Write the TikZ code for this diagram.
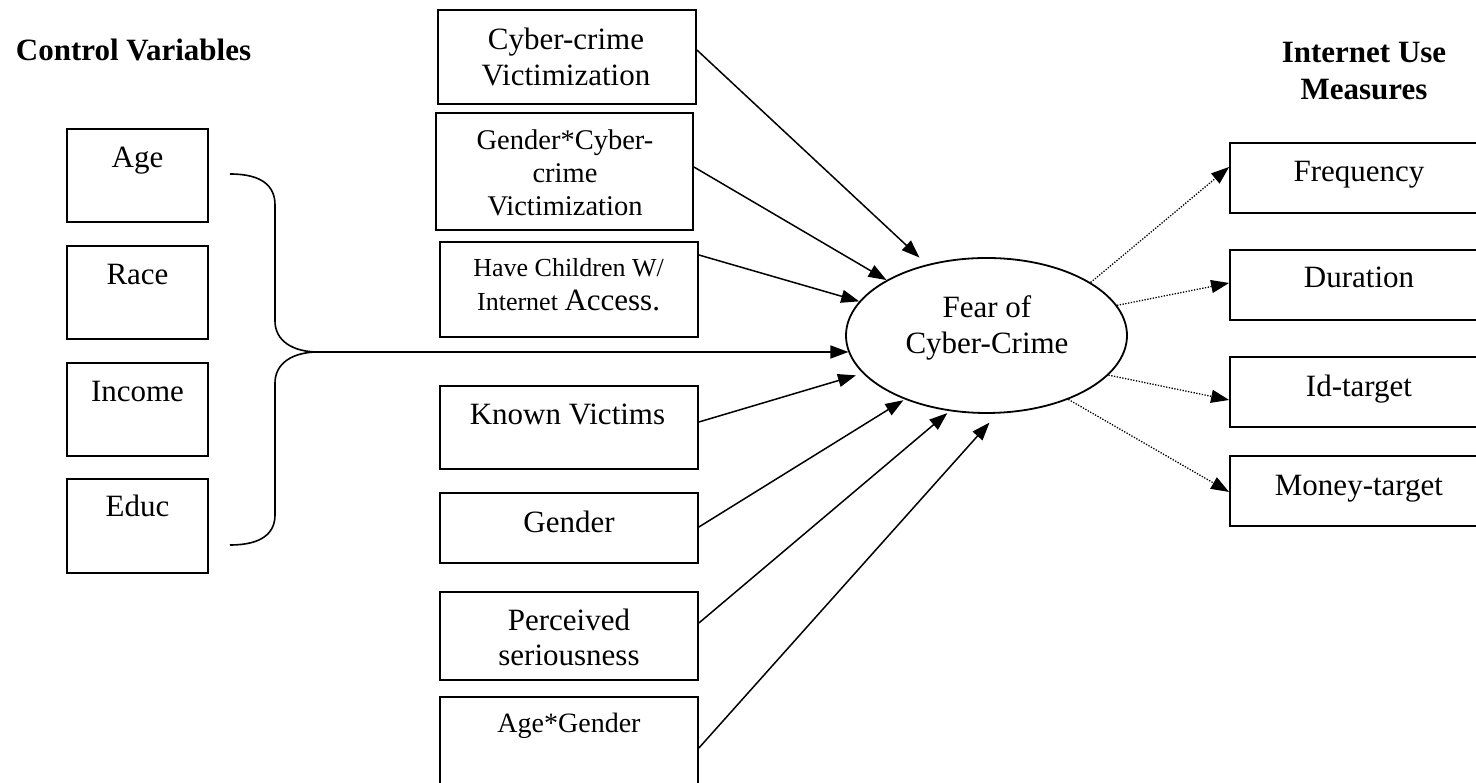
\documentclass[tikz,border=0pt]{standalone}
\usepackage{fontspec}
\setmainfont{Liberation Serif}
\usetikzlibrary{arrows.meta,calc,shapes.geometric}
\newcommand\mlines[1]{\begin{tabular}[t]{@{}c@{}}#1\end{tabular}}
\begin{document}
\begin{tikzpicture}[x=1pt,y=1pt,
  box/.style={draw,line width=1.8pt,rectangle,inner sep=0pt,minimum width=#1},
  box/.default=258pt,
  lbl/.style={anchor=base,inner sep=0pt,font=\fontsize{31}{36}\selectfont},
  head/.style={anchor=base,inner sep=0pt,font=\fontsize{31}{37}\selectfont\bfseries},
  conn/.style={line width=1.5pt,-{Triangle[length=18pt,width=13pt]}},
  dconn/.style={line width=1.3pt,dash pattern=on 1.3pt off 1.5pt,-{Triangle[length=18pt,width=13pt]}}]
\useasboundingbox (0,0) rectangle (1476,783);
\fill[white] (0,0) rectangle (1476,783);

% headings
\node[head] (hctrl) at (133.5,722) {Control Variables};
\node[head] (hint) at (1364,720) {\mlines{Internet Use\\Measures}};

% control variable boxes
\node[box=141pt,minimum height=93pt] (age) at (137.5,607.5) {};
\node[box=141pt,minimum height=93pt] (race) at (137.5,490.5) {};
\node[box=141pt,minimum height=93pt] (income) at (137.5,373.5) {};
\node[box=141pt,minimum height=94pt] (educ) at (137.5,257) {};
\node[lbl] (tage) at (137.5,615) {Age};
\node[lbl] (trace) at (137.5,498) {Race};
\node[lbl] (tincome) at (137.5,381) {Income};
\node[lbl] (teduc) at (137.5,266) {Educ};

% middle boxes
\node[box,minimum height=94pt] (cv) at (567,726) {};
\node[box=257pt,minimum height=117pt] (gcv) at (564.5,611.5) {};
\node[box,minimum height=95pt] (hc) at (569,493.5) {};
\node[box,minimum height=83pt] (kv) at (569,355.5) {};
\node[box,minimum height=70pt] (gen) at (569,255) {};
\node[box,minimum height=88pt] (per) at (569,147) {};
\node[box,minimum height=92pt] (ag) at (569,40) {};

\node[lbl] (tcv) at (566,733) {\mlines{Cyber-crime\\Victimization}};
\node[lbl,font=\fontsize{28.5}{33}\selectfont] (tgcv) at (565,633) {\mlines{Gender*Cyber-\\crime\\Victimization}};
\node[lbl,font=\fontsize{26}{34}\selectfont] (thc) at (568.6,506) {\mlines{Have Children W/\\Internet {\fontsize{31}{34}\selectfont Access.}}};
\node[lbl] (tkv) at (567.5,358) {Known Victims};
\node[lbl] (tgen) at (569,250) {Gender};
\node[lbl,font=\fontsize{31}{35}\selectfont] (tper) at (569,152) {\mlines{Perceived\\seriousness}};
\node[lbl,font=\fontsize{28}{33}\selectfont] (tag) at (569,50) {Age*Gender};

% ellipse
\node[draw,ellipse,line width=1.8pt,minimum width=281pt,minimum height=155pt,inner sep=0pt] (fear) at (986.5,447.5) {};
\node[lbl] (tfear) at (987,465) {\mlines{Fear of\\Cyber-Crime}};

% right boxes
\node[box=260pt,minimum height=70pt] (freq) at (1360,605) {};
\node[box=260pt,minimum height=70pt] (dur) at (1360,498) {};
\node[box=260pt,minimum height=70pt] (idt) at (1360,391) {};
\node[box=260pt,minimum height=70pt] (mon) at (1360,292) {};
\node[lbl] (tfreq) at (1359,601) {Frequency};
\node[lbl] (tdur) at (1359,495) {Duration};
\node[lbl] (tidt) at (1359,386) {Id-target};
\node[lbl] (tmon) at (1359,287) {Money-target};

% bracket
\coordinate (bm) at (318,431);
\coordinate (btop) at (230,609);
\coordinate (bbot) at (230,238);
\draw[line width=1.6pt] (btop) .. controls (262,609) and (275,597) .. (275,578)
  -- (275,462) .. controls (275,442) and (293,431) .. (bm)
  .. controls (293,431) and (275,420) .. (275,400)
  -- (275,268) .. controls (275,250) and (262,238) .. (bbot);

% connectors into fear
\draw[conn,shorten >=10pt] (cv.east |- 0,733) -- (fear.130.6);
\draw[conn] (gcv.east |- 0,616) -- (fear.151.2);
\draw[conn] (hc.east |- 0,528) -- (fear.165.2);
\draw[conn] (bm) -- (bm -| fear.187);
\draw[conn,shorten >=7pt] (kv.east |- 0,361) -- (fear.197);
\draw[conn,shorten >=1.5pt] (gen.east |- 0,256) -- (fear.218.4);
\draw[conn,shorten >=3pt] (per.east |- 0,160) -- (fear.244.8);
\draw[conn,shorten >=12pt] (ag.east |- 0,35) -- (fear.278.6);

% dotted connectors out of fear
\draw[dconn] (fear.27.1) -- (freq.west |- 0,616);
\draw[dconn] (fear.13.45) -- (dur.west |- 0,500);
\draw[dconn] (fear.342.5) -- (idt.west |- 0,383);
\draw[dconn] (fear.322.1) -- (mon.west |- 0,291);
\end{tikzpicture}
\end{document}
